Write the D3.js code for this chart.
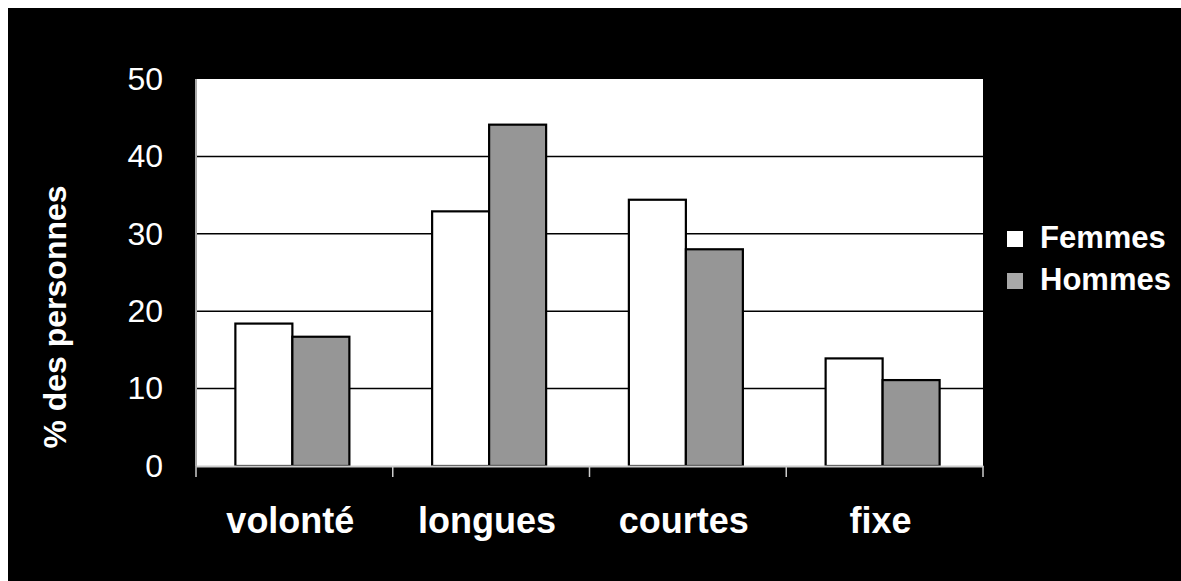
<!DOCTYPE html>
<html>
<head>
<meta charset="utf-8">
<script src="https://cdn.jsdelivr.net/npm/d3@7"></script>
<style>
  html { background: #000; overflow: hidden; }
  body { margin: 0; overflow: hidden; border-top: 8px solid #fff; border-left: 8px solid #fff; background: #000; }
  svg { display: block; background: #000; }
  text { font-family: "Liberation Sans", Arial, sans-serif; fill: #fff; }
</style>
</head>
<body>
<div id="chart"></div>
<script>
const categories = ["volonté", "longues", "courtes", "fixe"];
const series = ["Femmes", "Hommes"];
const femmes = [18.4, 32.9, 34.4, 13.9];
const hommes = [16.7, 44.1, 28.0, 11.1];
const yTicks = [0, 10, 20, 30, 40, 50];
const seriesColors = ["#ffffff", "#969696"];

const margin = { top: 71, right: 198, bottom: 115, left: 188 };
const width = 787;
const height = 387;

const svg = d3.select("#chart")
    .append("svg")
    .attr("width", width + margin.left + margin.right)
    .attr("height", height + margin.top + margin.bottom);

const g = svg.append("g")
    .attr("transform", `translate(${margin.left},${margin.top})`);

const data = categories.map((c, i) => ({ cat: c, values: [femmes[i], hommes[i]] }));

const x0 = d3.scaleBand()
    .domain(categories)
    .range([0, width])
    .padding(0);

const groupW = 114;
const x1 = d3.scaleBand()
    .domain(series)
    .range([(x0.bandwidth() - groupW) / 2 - 2, (x0.bandwidth() + groupW) / 2 - 2])
    .padding(0);

const y = d3.scaleLinear()
    .domain([0, 50])
    .range([height, 0]);

// plot background
g.append("rect")
    .attr("width", width)
    .attr("height", height)
    .attr("fill", "#fff");

// gridlines
g.selectAll(".grid")
    .data(yTicks.filter(t => t > 0 && t < 50))
    .enter()
    .append("line")
    .attr("x1", 0)
    .attr("x2", width)
    .attr("y1", d => y(d))
    .attr("y2", d => y(d))
    .attr("stroke", "#000")
    .attr("stroke-width", 1.5);

// bars
const groups = g.selectAll(".grp")
    .data(data)
    .enter()
    .append("g")
    .attr("transform", d => `translate(${x0(d.cat)},0)`);

groups.selectAll("rect")
    .data(d => d.values.map((v, i) => ({ key: series[i], v, i })))
    .enter()
    .append("rect")
    .attr("x", d => x1(d.key))
    .attr("y", d => y(d.v))
    .attr("width", x1.bandwidth())
    .attr("height", d => height - y(d.v))
    .attr("fill", d => seriesColors[d.i])
    .attr("stroke", "#000")
    .attr("stroke-width", 2.2);

// left axis line
g.append("line")
    .attr("x1", 0).attr("x2", 0)
    .attr("y1", 0).attr("y2", height)
    .attr("stroke", "#aaa")
    .attr("stroke-width", 2);

// y axis
const yAxis = g.append("g")
    .call(d3.axisLeft(y).tickValues(yTicks).tickSize(0).tickPadding(33));
yAxis.select(".domain").remove();
yAxis.selectAll("text")
    .style("font-size", "32px")
    .style("font-family", "'Liberation Sans', Arial, sans-serif")
    .attr("fill", "#fff");

// x axis
const xAxis = g.append("g")
    .attr("transform", `translate(0,${height})`)
    .call(d3.axisBottom(x0).tickSize(0).tickFormat(""));
xAxis.select(".domain")
    .attr("stroke", "#ccc")
    .attr("stroke-width", 2);

g.selectAll(".sep")
    .data(d3.range(categories.length + 1))
    .enter()
    .append("line")
    .attr("x1", i => i === categories.length ? width : x0(categories[i]))
    .attr("x2", i => i === categories.length ? width : x0(categories[i]))
    .attr("y1", height)
    .attr("y2", height + 11)
    .attr("stroke", "#ccc")
    .attr("stroke-width", 1.5);

g.selectAll(".xlab")
    .data(categories)
    .enter()
    .append("text")
    .attr("x", d => x0(d) + x0.bandwidth() / 2 - 4)
    .attr("y", height + 67)
    .attr("text-anchor", "middle")
    .style("font-size", "36px")
    .style("font-weight", "bold")
    .text(d => d);

// y title
svg.append("text")
    .attr("transform", `translate(${66 - 8},${317 - 8}) rotate(-90)`)
    .attr("text-anchor", "middle")
    .style("font-size", "32px")
    .style("font-weight", "bold")
    .text("% des personnes");

// legend
const legend = svg.append("g")
    .attr("transform", `translate(${1007 - 8},${231 - 8})`);

const items = legend.selectAll(".item")
    .data(series)
    .enter()
    .append("g")
    .attr("transform", (d, i) => `translate(0,${i * 42})`);

items.append("rect")
    .attr("width", 16)
    .attr("height", 16)
    .attr("fill", (d, i) => i === 1 ? "#a8a8a8" : "#fff");

items.append("text")
    .attr("x", 33)
    .attr("y", 17)
    .style("font-size", "31px")
    .style("font-weight", "bold")
    .text(d => d);
</script>
</body>
</html>
